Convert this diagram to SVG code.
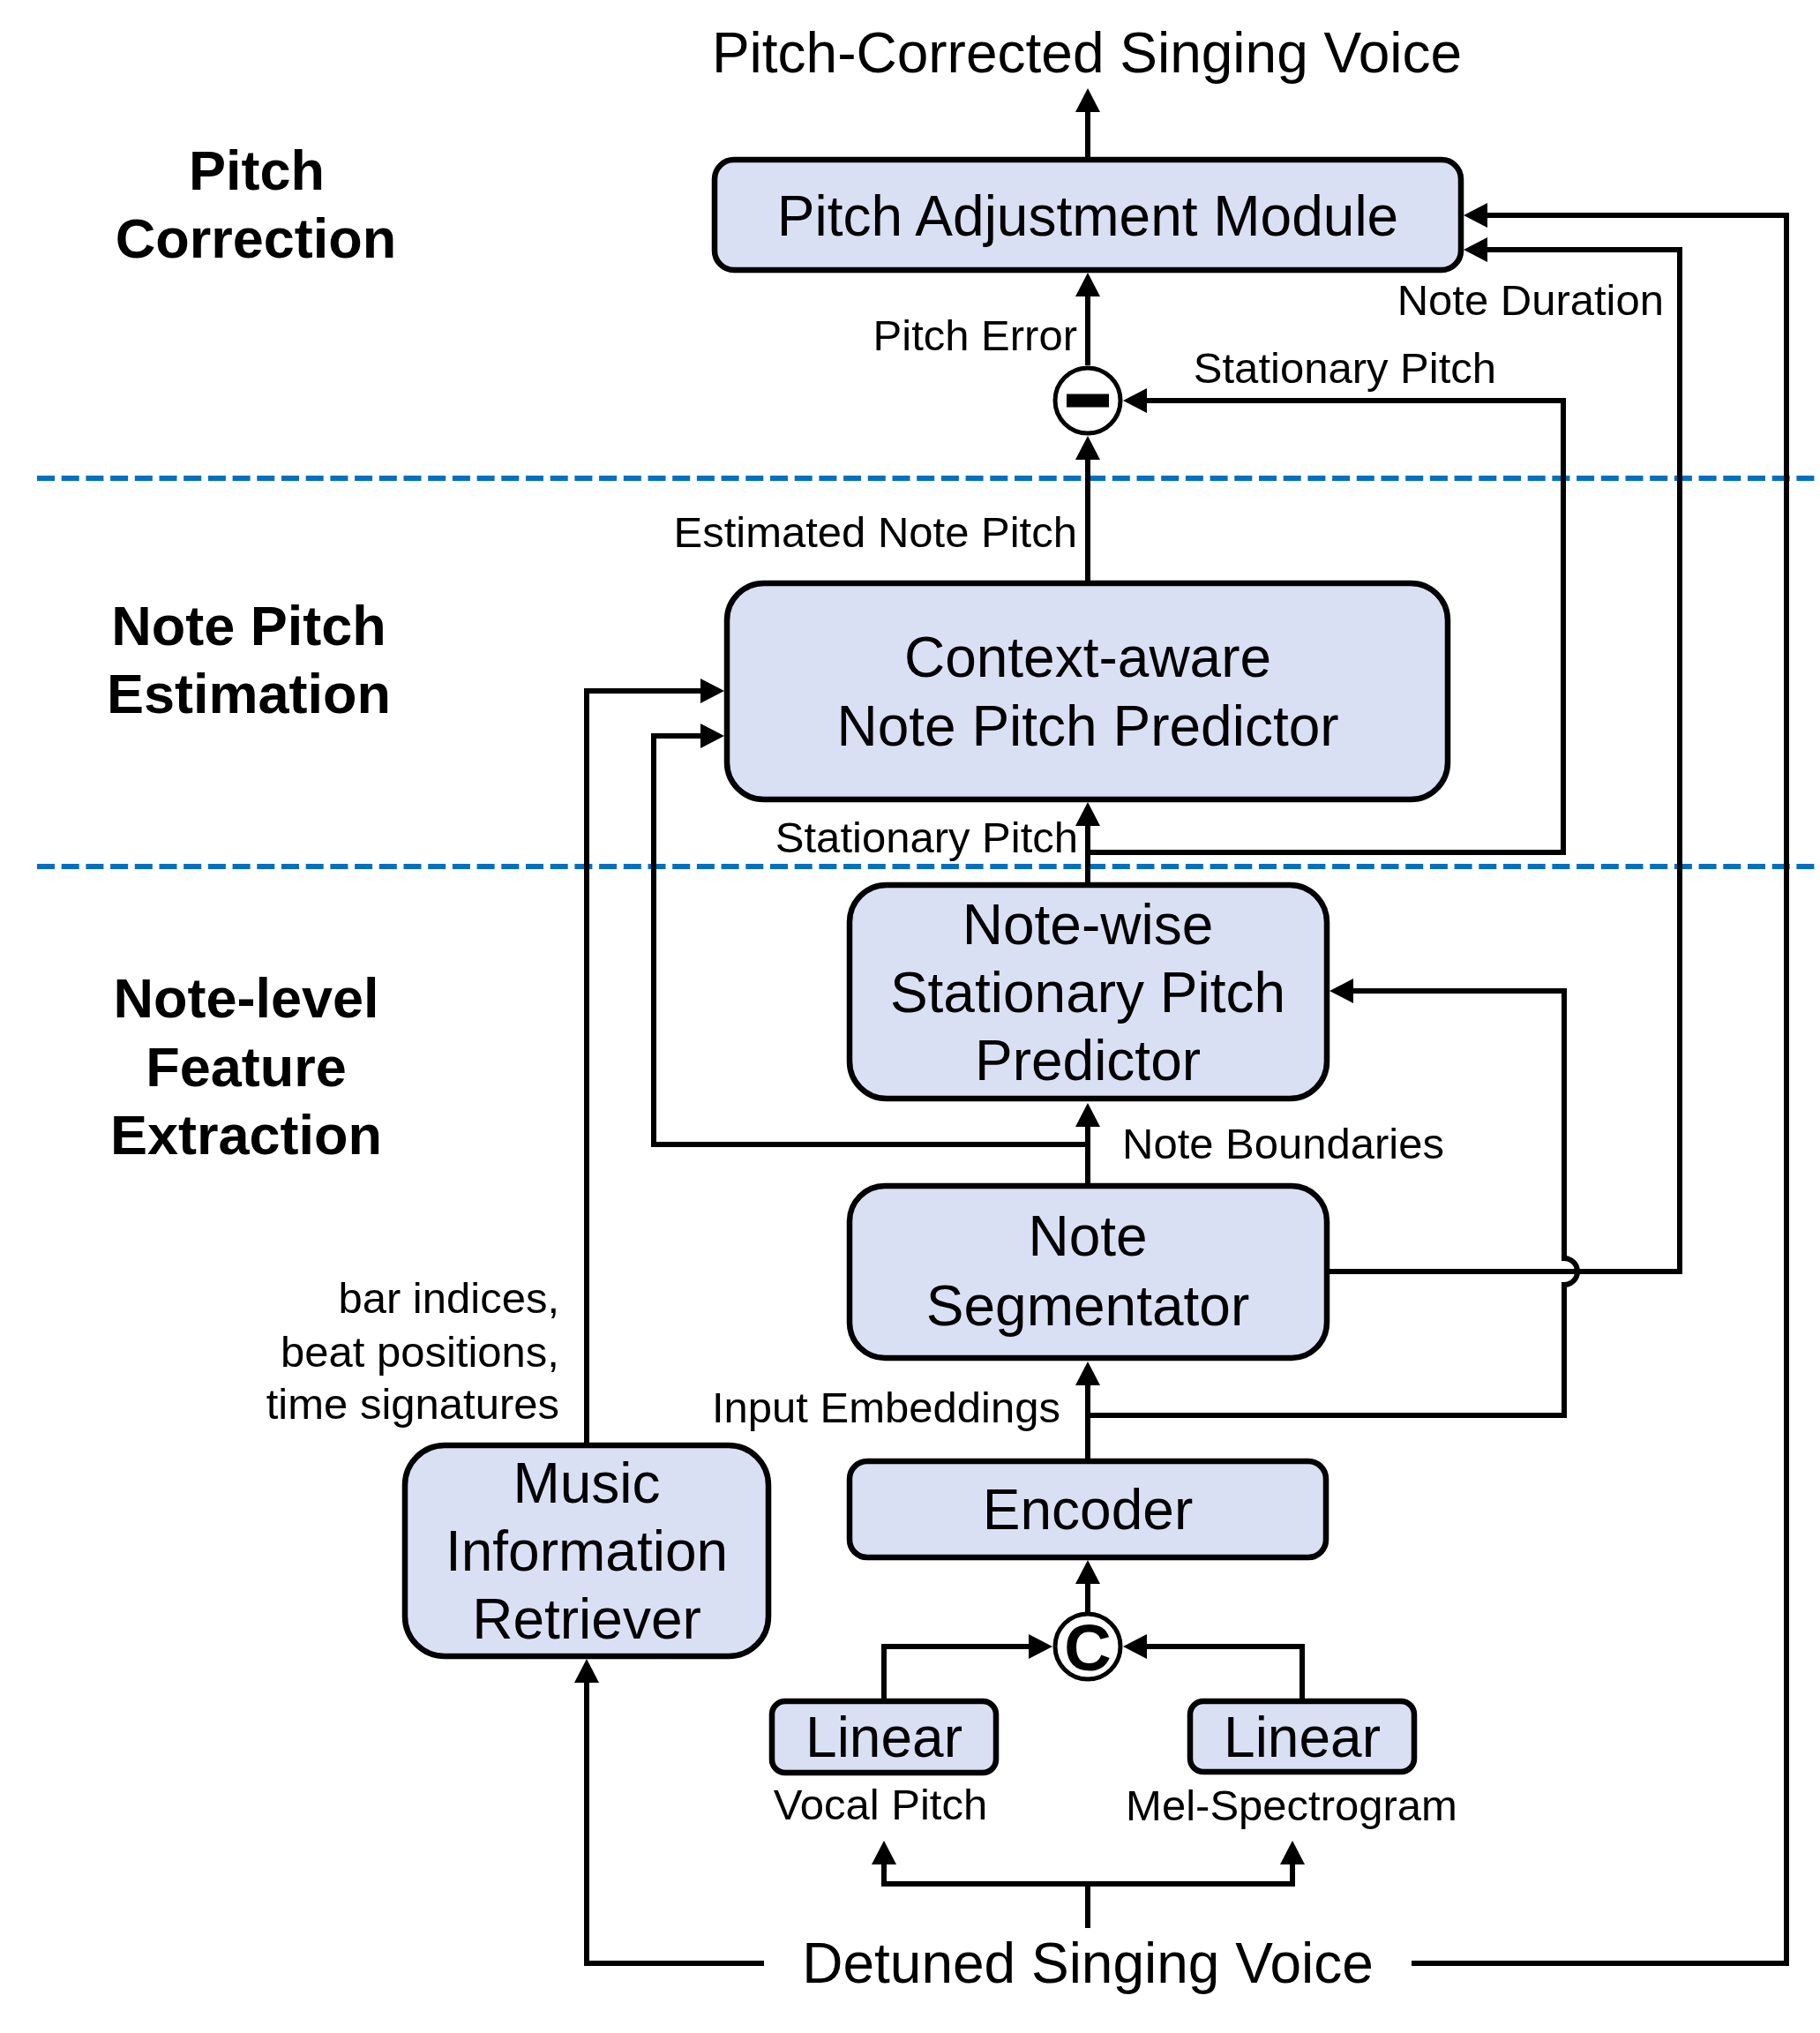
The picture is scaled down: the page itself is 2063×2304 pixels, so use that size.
<svg xmlns="http://www.w3.org/2000/svg" width="2063" height="2304" viewBox="0 0 2063 2304">
<defs>
<style>
.box{fill:#DAE0F3;stroke:#000;stroke-width:6.5}
.t{font-family:"Liberation Sans",Arial,sans-serif;fill:#000}
.nt{font-size:64px;text-anchor:middle}
.lb{font-size:49px}
.sec{font-size:63px;font-weight:bold;text-anchor:middle}
.c{fill:none;stroke:#000;stroke-width:6;stroke-linejoin:miter}
.arr{fill:none;stroke:#000;stroke-width:6;marker-end:url(#ah)}
.dash{stroke:#0070C0;stroke-width:6;stroke-dasharray:20 7.7}
.op{fill:#fff;stroke:#000;stroke-width:5}
</style>
<marker id="ah" markerUnits="userSpaceOnUse" markerWidth="27" markerHeight="28" refX="15" refY="14" orient="auto" viewBox="0 0 27 28">
<path d="M0,0 L27,14 L0,28 Z" fill="#000"/>
</marker>
</defs>
<rect width="2063" height="2304" fill="#fff"/>

<g id="separators">
<line class="dash" x1="42" y1="542" x2="2063" y2="542"/>
<line class="dash" x1="42" y1="982" x2="2063" y2="982"/>
</g>

<g id="section-labels" class="t">
<text class="t sec" x="291" y="215">Pitch</text>
<text class="t sec" x="290" y="292">Correction</text>
<text class="t sec" x="282" y="731">Note Pitch</text>
<text class="t sec" x="282" y="808">Estimation</text>
<text class="t sec" x="279" y="1153">Note-level</text>
<text class="t sec" x="279" y="1231">Feature</text>
<text class="t sec" x="279" y="1308">Extraction</text>
</g>

<g id="connectors">
<path class="arr" d="M1233,178 V112"/>
<path class="arr" d="M1233,414 V321"/>
<path class="arr" d="M1233,658 V506"/>
<path class="arr" d="M1233,966 H1772 V454 H1285"/>
<path class="arr" d="M1233,1000 V921"/>
<path class="arr" d="M1233,1341 V1262"/>
<path class="arr" d="M1233,1297 H741 V834 H809"/>
<path class="arr" d="M665,1635 V783 H809"/>
<path class="arr" d="M1233,1653 V1555"/>
<path class="arr" d="M1233,1604 H1773 V1456 A15,15 0 0,0 1773,1426 V1123 H1519"/>
<path class="arr" d="M1507,1441 H1904 V283 H1671"/>
<path class="arr" d="M1600,2225 H2025 V244 H1671"/>
<path class="arr" d="M866,2225 H665 V1892"/>
<path class="arr" d="M1233,1827 V1780"/>
<path class="arr" d="M1002,1925 V1866 H1181"/>
<path class="arr" d="M1476,1925 V1866 H1285"/>
<path class="c" d="M1233,2185 V2135"/>
<path class="arr" d="M1233,2135 H1002 V2098"/>
<path class="arr" d="M1233,2135 H1465 V2098"/>
</g>

<g id="io-labels">
<text class="t" x="1232" y="82" font-size="64" text-anchor="middle">Pitch-Corrected Singing Voice</text>
<text class="t" x="1233" y="2247" font-size="64" text-anchor="middle">Detuned Singing Voice</text>
</g>

<g id="edge-labels">
<text class="t lb" x="1221" y="397" text-anchor="end">Pitch Error</text>
<text class="t lb" x="1696" y="434" text-anchor="end">Stationary Pitch</text>
<text class="t lb" x="1886" y="357" text-anchor="end">Note Duration</text>
<text class="t lb" x="1221" y="620" text-anchor="end">Estimated Note Pitch</text>
<text class="t lb" x="1222" y="966" text-anchor="end">Stationary Pitch</text>
<text class="t lb" x="1272" y="1313">Note Boundaries</text>
<text class="t lb" x="1202" y="1612" text-anchor="end">Input Embeddings</text>
<text class="t lb" x="634" y="1488" text-anchor="end">bar indices,</text>
<text class="t lb" x="634" y="1549" text-anchor="end">beat positions,</text>
<text class="t lb" x="634" y="1608" text-anchor="end">time signatures</text>
<text class="t lb" x="998" y="2062" text-anchor="middle">Vocal Pitch</text>
<text class="t lb" x="1464" y="2063" text-anchor="middle">Mel-Spectrogram</text>
</g>

<g id="pitch-adjustment-module">
<rect class="box" x="810" y="181" width="846" height="125" rx="22"/>
<text class="t nt" x="1233" y="267">Pitch Adjustment Module</text>
</g>

<g id="subtract">
<circle class="op" cx="1233" cy="454" r="37"/>
<rect x="1209" y="446.5" width="48" height="15" fill="#000"/>
</g>

<g id="context-aware-predictor">
<rect class="box" x="824" y="661" width="817" height="245" rx="42"/>
<text class="t nt" x="1233" y="767">Context-aware</text>
<text class="t nt" x="1233" y="845">Note Pitch Predictor</text>
</g>

<g id="stationary-pitch-predictor">
<rect class="box" x="963" y="1003" width="541" height="242" rx="42"/>
<text class="t nt" x="1233" y="1070">Note-wise</text>
<text class="t nt" x="1233" y="1147">Stationary Pitch</text>
<text class="t nt" x="1233" y="1224">Predictor</text>
</g>

<g id="note-segmentator">
<rect class="box" x="963" y="1344" width="541" height="195" rx="40"/>
<text class="t nt" x="1233" y="1423">Note</text>
<text class="t nt" x="1233" y="1502">Segmentator</text>
</g>

<g id="encoder">
<rect class="box" x="963" y="1656" width="540" height="109" rx="20"/>
<text class="t nt" x="1233" y="1733">Encoder</text>
</g>

<g id="music-information-retriever">
<rect class="box" x="459" y="1638" width="412" height="239" rx="45"/>
<text class="t nt" x="665" y="1703">Music</text>
<text class="t nt" x="665" y="1780">Information</text>
<text class="t nt" x="665" y="1857">Retriever</text>
</g>

<g id="concat">
<circle class="op" cx="1233" cy="1866" r="37"/>
<text class="t" x="1233" y="1893" font-size="74" font-weight="bold" text-anchor="middle">C</text>
</g>

<g id="linear-vocal">
<rect class="box" x="875" y="1928" width="254" height="81" rx="15"/>
<text class="t nt" x="1002" y="1991">Linear</text>
</g>

<g id="linear-mel">
<rect class="box" x="1349" y="1928" width="254" height="80" rx="15"/>
<text class="t nt" x="1476" y="1991">Linear</text>
</g>
</svg>
